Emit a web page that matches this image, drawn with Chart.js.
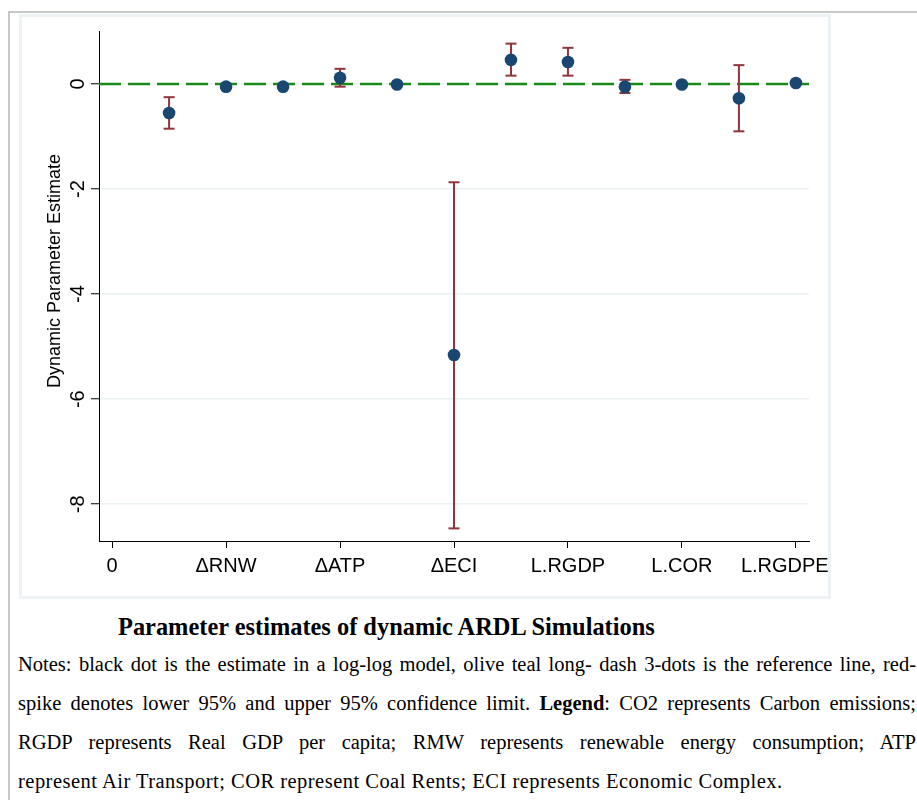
<!DOCTYPE html>
<html lang="en">
<head>
  <meta charset="UTF-8" />
  <title>Parameter estimates of dynamic ARDL Simulations</title>
  <script src="https://cdn.jsdelivr.net/npm/chart.js"></script>
  <style>
    body {
      margin: 0;
      background: #ffffff;
      width: 917px;
      height: 800px;
      overflow: hidden;
      position: relative;
    }
    #frame {
      position: absolute;
      left: 8px;
      top: 11px;
      width: 1000px;
      height: 900px;
      border: 2px solid #c8c8c8;
    }
    #panel {
      position: absolute;
      left: 19px;
      top: 14px;
      width: 806px;
      height: 579px;
      background: #ffffff;
      border: 3px solid #edf2f4;
    }
    #chart {
      position: absolute;
      left: 0;
      top: 0;
    }
    #caption {
      position: absolute;
      left: 118px;
      top: 612px;
      font-family: 'Liberation Serif', serif;
      font-weight: bold;
      font-size: 24.4px;
      line-height: 30px;
      color: #000;
      white-space: nowrap;
    }
    #notes {
      position: absolute;
      left: 18px;
      top: 645px;
      width: 898px;
      font-family: 'Liberation Serif', serif;
      font-size: 20.5px;
      line-height: 39px;
      color: #000;
    }
    .ln {
      white-space: nowrap;
      text-align: justify;
      text-align-last: justify;
    }
    .ln.last {
      text-align-last: left;
      letter-spacing: 0.48px;
    }
  </style>
</head>
<body>

  <div id="frame"></div>
  <div id="panel"></div>
  <canvas id="chart" width="917" height="600"></canvas>

  <div id="caption">Parameter estimates of dynamic ARDL Simulations</div>
  <div id="notes">
    <div class="ln">Notes: black dot is the estimate in a log-log model, olive teal long- dash 3-dots is the reference line, red-</div>
    <div class="ln">spike denotes lower 95% and upper 95% confidence limit. <b>Legend</b>: CO2 represents Carbon emissions;</div>
    <div class="ln">RGDP represents Real GDP per capita; RMW represents renewable energy consumption; ATP</div>
    <div class="ln last">represent Air Transport; COR represent Coal Rents; ECI represents Economic Complex.</div>
  </div>

  <script>
    // positions of the estimates on the x axis
    const positions = [1, 2, 3, 4, 5, 6, 7, 8, 9, 10, 11, 12];
    const estimates = [-0.55, -0.05, -0.05, 0.12, -0.01, -5.16, 0.46, 0.42, -0.05, -0.01, -0.27, 0.02];
    const lower95   = [-0.85, -0.07, -0.07, -0.05, -0.03, -8.46, 0.16, 0.16, -0.17, -0.03, -0.90, 0.00];
    const upper95   = [-0.25, -0.03, -0.03, 0.29, 0.01, -1.87, 0.77, 0.69, 0.08, 0.01, 0.36, 0.04];

    const xTickValues = [0, 2, 4, 6, 8, 10, 12];
    const xTickLabels = ['0', 'ΔRNW', 'ΔATP', 'ΔECI', 'L.RGDP', 'L.COR', 'L.RGDPE'];
    const yTickValues = [-8, -6, -4, -2, 0];

    const xMin = -0.23, xMax = 12.23;
    const yMin = -8.7, yMax = 1.01;
    const refValue = 0;

    const navy = '#1a476f';
    const maroon = '#90353b';
    const green = '#1a8a1a';

    // one stem per confidence interval
    const stems = positions.map((x, i) => ({
      type: 'line',
      data: [{ x: x, y: lower95[i] }, { x: x, y: upper95[i] }],
      borderColor: maroon,
      borderWidth: 2,
      pointRadius: 0,
      order: 2
    }));

    const caps = {
      type: 'scatter',
      data: positions.flatMap((x, i) => [{ x: x, y: lower95[i] }, { x: x, y: upper95[i] }]),
      pointStyle: 'line',
      pointRadius: 5.5,
      borderColor: maroon,
      borderWidth: 2,
      order: 2
    };

    const refLine = {
      type: 'line',
      data: [{ x: xMin, y: refValue }, { x: xMax, y: refValue }],
      borderColor: green,
      borderWidth: 2.5,
      borderDash: [22, 7],
      pointRadius: 0,
      order: 3
    };

    const dots = {
      type: 'scatter',
      data: positions.map((x, i) => ({ x: x, y: estimates[i] })),
      pointRadius: 6.3,
      pointHoverRadius: 6.3,
      backgroundColor: navy,
      borderWidth: 0,
      order: 1
    };

    // Stata pulls the last label back inside the graph region
    function xLabel(v) {
      const label = xTickLabels[xTickValues.indexOf(v)];
      return v === xTickValues[xTickValues.length - 1] ? label + '\u00a0\u00a0\u00a0\u00a0' : label;
    }

    const ctx = document.getElementById('chart').getContext('2d');
    new Chart(ctx, {
      type: 'scatter',
      data: { datasets: [refLine, ...stems, caps, dots] },
      options: {
        responsive: false,
        animation: false,
        layout: { padding: { top: 31, right: 108, left: 0, bottom: 0 } },
        plugins: {
          legend: { display: false },
          tooltip: { enabled: false }
        },
        scales: {
          x: {
            type: 'linear',
            min: xMin,
            max: xMax,
            afterBuildTicks: s => { s.ticks = xTickValues.map(v => ({ value: v })); },
            afterFit: s => { s.height = 59; },
            ticks: {
              autoSkip: false,
              maxRotation: 0,
              padding: 6,
              color: '#000',
              font: { family: "'Liberation Sans', Arial, sans-serif", size: 20 },
              callback: xLabel
            },
            grid: { drawOnChartArea: false, tickLength: 7, tickColor: '#000', tickWidth: 1 },
            border: { color: '#000', width: 1 }
          },
          y: {
            type: 'linear',
            min: yMin,
            max: yMax,
            afterBuildTicks: s => { s.ticks = yTickValues.map(v => ({ value: v })); },
            afterFit: s => { s.width = 99; },
            ticks: {
              minRotation: 90,
              maxRotation: 90,
              crossAlign: 'center',
              padding: 4,
              color: '#000',
              font: { family: "'Liberation Sans', Arial, sans-serif", size: 20 }
            },
            grid: { color: '#eaf2f3', lineWidth: 1.5, tickLength: 8, tickColor: '#000', tickWidth: 1 },
            border: { color: '#000', width: 1 },
            title: {
              display: true,
              text: '\u00a0\u00a0\u00a0\u00a0\u00a0\u00a0Dynamic Parameter Estimate',
              color: '#000',
              font: { family: "'Liberation Sans', Arial, sans-serif", size: 18 },
              padding: { top: 44, bottom: 0 }
            }
          }
        }
      }
    });
  </script>

</body>
</html>
